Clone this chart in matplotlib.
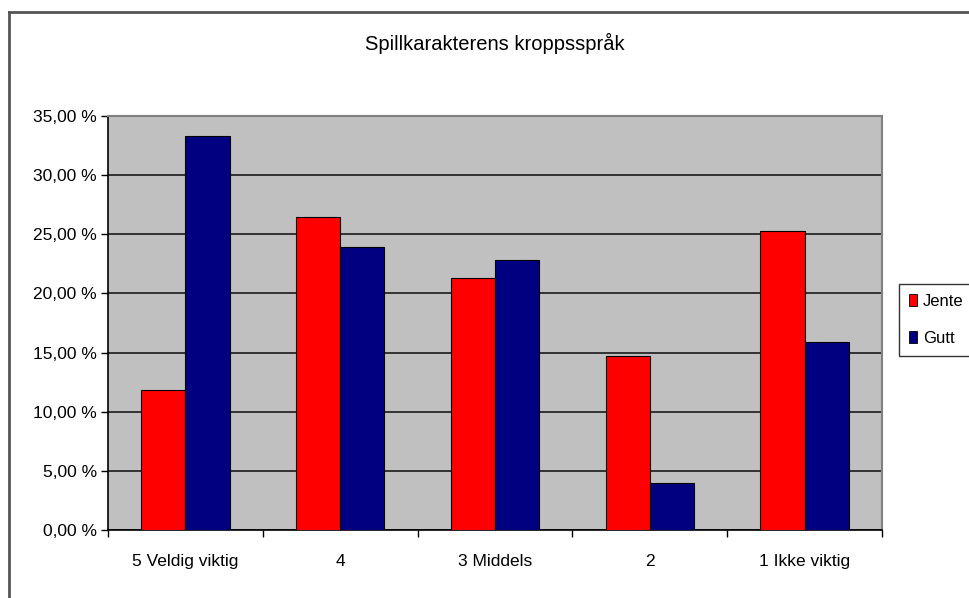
import numpy as np
import matplotlib
matplotlib.use("Agg")
import matplotlib.pyplot as plt
from matplotlib.lines import Line2D
from matplotlib.patches import Patch

plt.rcParams["font.family"] = ["Liberation Sans", "DejaVu Sans"]

title = "Spillkarakterens kroppsspråk"
categories = ["5 Veldig viktig", "4", "3 Middels", "2", "1 Ikke viktig"]
series_names = ["Jente", "Gutt"]
jente = [11.8, 26.5, 21.3, 14.7, 25.3]
gutt = [33.3, 23.9, 22.8, 4.0, 15.9]
y_ticks = [0, 5, 10, 15, 20, 25, 30, 35]

RED = "#FF0000"
NAVY = "#000080"
PLOT_BG = "#C0C0C0"

W, H = 970, 598
fig = plt.figure(figsize=(W / 100, H / 100), dpi=100)

# outer chart frame (left and top edges only show)
fig.add_artist(Line2D([9 / W, 9 / W], [0, 1 - 12 / H], color="#555555", lw=2))
fig.add_artist(Line2D([9 / W, 1], [1 - 12 / H, 1 - 12 / H], color="#555555", lw=2))

left, right, top, bottom = 108, 882, 116, 530
ax = fig.add_axes([left / W, 1 - bottom / H, (right - left) / W, (bottom - top) / H])
ax.set_facecolor(PLOT_BG)

x = np.arange(len(categories))
w = 1 / 3.5
ax.bar(x - w / 2, jente, w, color=RED, edgecolor="black", lw=0.8, zorder=3)
ax.bar(x + w / 2, gutt, w, color=NAVY, edgecolor="black", lw=0.8, zorder=3)

ax.set_xlim(-0.5, len(categories) - 0.5)
ax.set_ylim(0, 35)
ax.set_yticks(y_ticks)
ax.set_yticklabels([f"{v:.2f}".replace(".", ",") + " %" for v in y_ticks], fontsize=12.5)
ax.yaxis.grid(True, color="#333333", lw=1.4, zorder=1)
ax.tick_params(axis="y", length=5, width=1, direction="out", pad=3)

ax.set_xticks(x)
ax.set_xticklabels(categories, fontsize=12.5)
ax.set_xticks(np.arange(-0.5, len(categories)), minor=True)
ax.tick_params(axis="x", which="major", length=0, pad=17)
ax.tick_params(axis="x", which="minor", length=5, width=1, direction="out")

for side in ["top", "right"]:
    ax.spines[side].set_color("#808080")
    ax.spines[side].set_linewidth(1.5)
for side in ["left", "bottom"]:
    ax.spines[side].set_color("black")
    ax.spines[side].set_linewidth(1.2)

fig.text(495 / W, 1 - 43 / H, title, ha="center", va="center", fontsize=14.5)

handles = [Patch(facecolor=RED, edgecolor="black", lw=0.6),
           Patch(facecolor=NAVY, edgecolor="black", lw=0.6)]
leg = fig.legend(handles, series_names, loc="upper left",
                 bbox_to_anchor=(899 / W, 1 - 284 / H), fontsize=12,
                 frameon=True, fancybox=False, handlelength=0.5, handleheight=0.7,
                 handletextpad=0.35, borderpad=0.6, labelspacing=1.3, borderaxespad=0)
leg.get_frame().set_edgecolor("black")
leg.get_frame().set_linewidth(1)

fig.savefig("out.png", dpi=100, facecolor="white")
